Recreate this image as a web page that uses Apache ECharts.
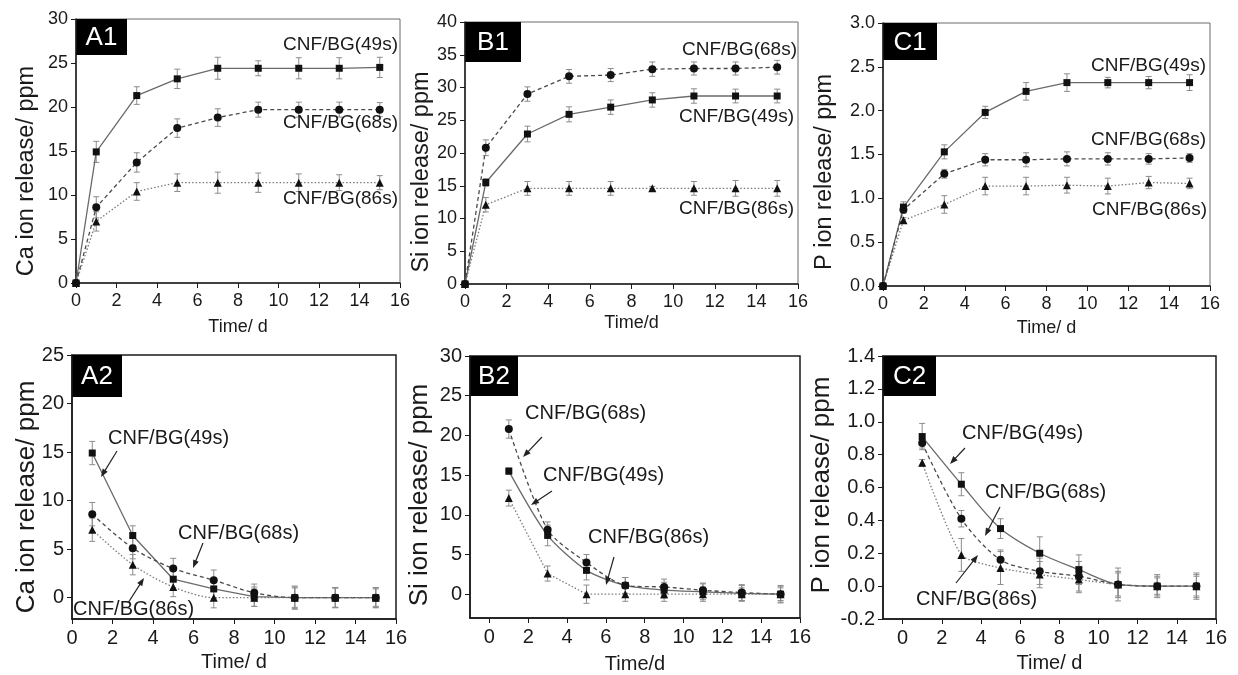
<!DOCTYPE html>
<html>
<head>
<meta charset="utf-8">
<script src="https://cdn.jsdelivr.net/npm/echarts@6/dist/echarts.min.js"></script>
<style>
  html, body { margin: 0; padding: 0; background: #fff; }
  #chart { width: 1238px; height: 675px; }
</style>
</head>
<body>
<div id="chart"></div>
<script>
// sampling days
const daysTop = [0, 1, 3, 5, 7, 9, 11, 13, 15];
const daysBottom = [1, 3, 5, 7, 9, 11, 13, 15];

// tick labels
const dayTicks = [0, 2, 4, 6, 8, 10, 12, 14, 16];
const caCumTicks = [0, 5, 10, 15, 20, 25, 30];
const siCumTicks = [0, 5, 10, 15, 20, 25, 30, 35, 40];
const pCumTicks = [0, 0.5, 1.0, 1.5, 2.0, 2.5, 3.0];
const caDayTicks = [0, 5, 10, 15, 20, 25];
const siDayTicks = [0, 5, 10, 15, 20, 25, 30];
const pDayTicks = [-0.2, 0, 0.2, 0.4, 0.6, 0.8, 1.0, 1.2, 1.4];

// A1 - cumulative Ca release
const caCum49 = [0, 14.9, 21.3, 23.2, 24.4, 24.4, 24.4, 24.4, 24.5];
const caCum49Err = [0, 1.2, 1.0, 1.1, 1.25, 0.85, 1.2, 1.2, 1.15];
const caCum68 = [0, 8.6, 13.7, 17.6, 18.8, 19.7, 19.7, 19.7, 19.7];
const caCum68Err = [0, 1.2, 1.1, 1.05, 1.0, 0.85, 0.85, 0.85, 0.8];
const caCum86 = [0, 7.0, 10.4, 11.4, 11.4, 11.4, 11.4, 11.4, 11.4];
const caCum86Err = [0, 1.1, 1.0, 1.0, 1.2, 1.1, 1.0, 0.9, 0.8];

// B1 - cumulative Si release
const siCum49 = [0, 15.5, 22.9, 25.9, 27.0, 28.1, 28.7, 28.7, 28.7];
const siCum49Err = [0, 0.6, 1.2, 1.15, 1.1, 1.1, 1.1, 1.05, 1.05];
const siCum68 = [0, 20.8, 29.0, 31.7, 31.9, 32.8, 32.9, 32.9, 33.1];
const siCum68Err = [0, 1.2, 1.1, 1.05, 1.0, 1.1, 1.0, 1.0, 1.05];
const siCum86 = [0, 12.1, 14.6, 14.6, 14.6, 14.6, 14.6, 14.6, 14.6];
const siCum86Err = [0, 1.1, 1.05, 1.05, 1.05, 0.3, 1.05, 1.2, 1.2];

// C1 - cumulative P release
const pCum49 = [0, 0.90, 1.53, 1.98, 2.22, 2.32, 2.32, 2.32, 2.32];
const pCum49Err = [0, 0.06, 0.08, 0.07, 0.1, 0.1, 0.06, 0.07, 0.09];
const pCum68 = [0, 0.87, 1.28, 1.44, 1.44, 1.45, 1.45, 1.45, 1.46];
const pCum68Err = [0, 0.04, 0.05, 0.07, 0.08, 0.08, 0.07, 0.06, 0.05];
const pCum86 = [0, 0.75, 0.93, 1.14, 1.14, 1.15, 1.14, 1.18, 1.17];
const pCum86Err = [0, 0.03, 0.1, 0.1, 0.1, 0.09, 0.09, 0.07, 0.06];

// A2 - Ca release per interval
const caDay49 = [14.9, 6.4, 1.9, 0.9, 0.1, 0, 0, 0];
const caDay49Err = [1.2, 1.0, 1.0, 1.0, 1.0, 1.1, 1.0, 1.0];
const caDay68 = [8.6, 5.1, 3.0, 1.8, 0.5, 0, 0, 0];
const caDay68Err = [1.2, 1.1, 1.05, 1.05, 0.9, 1.2, 1.05, 1.05];
const caDay86 = [7.0, 3.4, 1.1, 0, 0, 0, 0, 0];
const caDay86Err = [1.2, 1.05, 1.0, 1.05, 0.9, 1.0, 1.0, 0.9];

// B2 - Si release per interval
const siDay49 = [15.5, 7.4, 3.0, 1.1, 0.5, 0.3, 0.1, 0];
const siDay49Err = [0.4, 1.3, 1.2, 1.0, 1.0, 1.0, 1.0, 1.1];
const siDay68 = [20.8, 8.1, 4.0, 1.1, 0.9, 0.5, 0.2, 0];
const siDay68Err = [1.15, 1.0, 1.0, 1.0, 1.0, 0.9, 1.0, 1.0];
const siDay86 = [12.1, 2.6, 0, 0, 0, 0, 0, 0];
const siDay86Err = [1.0, 0.95, 1.15, 0.9, 0.9, 0.9, 0.8, 0.8];

// C2 - P release per interval
const pDay49 = [0.91, 0.62, 0.35, 0.20, 0.10, 0.01, 0, 0];
const pDay49Err = [0.08, 0.07, 0.06, 0.1, 0.09, 0.1, 0.07, 0.08];
const pDay68 = [0.87, 0.41, 0.16, 0.09, 0.06, 0.01, 0, 0];
const pDay68Err = [0.03, 0.05, 0.06, 0.08, 0.09, 0.08, 0.06, 0.07];
const pDay86 = [0.75, 0.19, 0.11, 0.07, 0.04, 0.01, 0, 0];
const pDay86Err = [0.02, 0.1, 0.1, 0.08, 0.08, 0.07, 0.05, 0.06];

const FONT = '"Liberation Sans", Arial, sans-serif';
const INK = '#1a1a1a';

// line look per sample
const styles = {
  s49: { symbol: 'rect', size: 7, line: { color: '#6a6a6a', width: 1.3, type: 'solid' } },
  s68: { symbol: 'circle', size: 8, line: { color: '#4a4a4a', width: 1.3, type: [4, 3] } },
  s86: { symbol: 'triangle', size: 8, line: { color: '#7a7a7a', width: 1.3, type: [1.5, 2] } },
};

// panel layout (top row has a lighter frame on top/right)
const panels = [
  { left: 76, top: 19, width: 324, height: 264, xMin: 0, yMin: 0, yMax: 30, yTicks: caCumTicks, dec: 0, fs: 18, nameGap: 35, xName: 'Time/ d', frame: '#6a6a6a', frameW: 1 },
  { left: 465, top: 22, width: 333, height: 262, xMin: 0, yMin: 0, yMax: 40, yTicks: siCumTicks, dec: 0, fs: 18, nameGap: 30, xName: 'Time/d', frame: '#6a6a6a', frameW: 1 },
  { left: 883, top: 23, width: 327, height: 263, xMin: 0, yMin: 0, yMax: 3, yTicks: pCumTicks, dec: 1, fs: 18, nameGap: 33, xName: 'Time/ d', frame: '#6a6a6a', frameW: 1 },
  { left: 72, top: 355, width: 324, height: 264, xMin: 0, yMin: -2.2, yMax: 25, yTicks: caDayTicks, dec: 0, fs: 20, nameGap: 33, xName: 'Time/ d', frame: INK, frameW: 1.5 },
  { left: 470, top: 356, width: 330, height: 263, xMin: -1, yMin: -3, yMax: 30, yTicks: siDayTicks, dec: 0, fs: 20, nameGap: 36, xName: 'Time/d', frame: INK, frameW: 1.5 },
  { left: 883, top: 356, width: 333, height: 263, xMin: -1, yMin: -0.2, yMax: 1.4, yTicks: pDayTicks, dec: 1, fs: 20, nameGap: 34, xName: 'Time/ d', frame: INK, frameW: 1.5 },
];

const grids = panels.map(p => ({
  left: p.left, top: p.top, width: p.width, height: p.height,
  show: true, borderColor: p.frame, borderWidth: p.frameW, containLabel: false,
}));

const xAxes = panels.map((p, i) => ({
  gridIndex: i, type: 'value', min: p.xMin, max: 16,
  name: p.xName, nameLocation: 'middle', nameGap: p.nameGap,
  nameTextStyle: { fontFamily: FONT, fontSize: p.fs, color: INK },
  axisLine: { show: true, onZero: false, lineStyle: { color: INK, width: 1.5 } },
  axisTick: { show: true, length: 5, customValues: dayTicks, lineStyle: { color: INK } },
  axisLabel: { fontFamily: FONT, fontSize: p.fs, color: INK, margin: 9, customValues: dayTicks },
  splitLine: { show: false },
}));

const yAxes = panels.map((p, i) => ({
  gridIndex: i, type: 'value', min: p.yMin, max: p.yMax,
  axisLine: { show: true, onZero: false, lineStyle: { color: INK, width: 1.5 } },
  axisTick: { show: true, length: 5, customValues: p.yTicks, lineStyle: { color: INK } },
  axisLabel: {
    fontFamily: FONT, fontSize: p.fs, color: INK, margin: 8, customValues: p.yTicks,
    formatter: v => Number(v).toFixed(p.dec),
  },
  splitLine: { show: false },
}));

function lineSeries(idx, xs, ys, st, smooth) {
  return {
    type: 'line', xAxisIndex: idx, yAxisIndex: idx,
    data: xs.map((x, k) => [x, ys[k]]),
    symbol: st.symbol, symbolSize: st.size, smooth: smooth,
    itemStyle: { color: '#111' },
    lineStyle: st.line, z: 3, silent: true,
  };
}

function errSeries(idx, xs, ys, es) {
  return {
    type: 'custom', xAxisIndex: idx, yAxisIndex: idx, z: 2, silent: true,
    data: xs.map((x, k) => [x, ys[k], es[k]]),
    encode: { x: 0, y: 1 },
    renderItem: (params, api) => {
      const x = api.value(0), y = api.value(1), e = api.value(2);
      if (!e) return null;
      const hi = api.coord([x, y + e]);
      const lo = api.coord([x, y - e]);
      const w = 3;
      const st = { stroke: '#8c8c8c', lineWidth: 1 };
      return {
        type: 'group', children: [
          { type: 'line', shape: { x1: hi[0], y1: hi[1], x2: lo[0], y2: lo[1] }, style: st },
          { type: 'line', shape: { x1: hi[0] - w, y1: hi[1], x2: hi[0] + w, y2: hi[1] }, style: st },
          { type: 'line', shape: { x1: lo[0] - w, y1: lo[1], x2: lo[0] + w, y2: lo[1] }, style: st },
        ],
      };
    },
  };
}

function trio(idx, xs, a, aE, b, bE, c, cE, smooth) {
  return [
    errSeries(idx, xs, a, aE), errSeries(idx, xs, b, bE), errSeries(idx, xs, c, cE),
    lineSeries(idx, xs, a, styles.s49, smooth[0]),
    lineSeries(idx, xs, b, styles.s68, smooth[1]),
    lineSeries(idx, xs, c, styles.s86, smooth[2]),
  ];
}

const series = [
  ...trio(0, daysTop, caCum49, caCum49Err, caCum68, caCum68Err, caCum86, caCum86Err, [false, false, false]),
  ...trio(1, daysTop, siCum49, siCum49Err, siCum68, siCum68Err, siCum86, siCum86Err, [false, false, false]),
  ...trio(2, daysTop, pCum49, pCum49Err, pCum68, pCum68Err, pCum86, pCum86Err, [false, false, false]),
  ...trio(3, daysBottom, caDay49, caDay49Err, caDay68, caDay68Err, caDay86, caDay86Err, [false, 0.3, 0.3]),
  ...trio(4, daysBottom, siDay49, siDay49Err, siDay68, siDay68Err, siDay86, siDay86Err, [0.25, 0.25, false]),
  ...trio(5, daysBottom, pDay49, pDay49Err, pDay68, pDay68Err, pDay86, pDay86Err, [0.3, 0.3, 0.2]),
];

// annotations
function txt(x, y, text, align, size) {
  return {
    type: 'text', x: x, y: y, z: 10, silent: true,
    style: { text: text, font: size + 'px ' + FONT, fill: INK, align: align, verticalAlign: 'middle' },
  };
}
function yName(x, y, text, size) {
  return {
    type: 'text', x: x, y: y, rotation: Math.PI / 2, z: 10, silent: true,
    style: { text: text, font: size + 'px ' + FONT, fill: INK, align: 'center', verticalAlign: 'middle' },
  };
}
function tag(x, y, w, h, text) {
  return {
    type: 'group', x: x, y: y, z: 20, silent: true, children: [
      { type: 'rect', shape: { x: 0, y: 0, width: w, height: h }, style: { fill: '#000' } },
      { type: 'text', x: w / 2, y: h / 2 + 1, style: { text: text, font: '26px ' + FONT, fill: '#fff', align: 'center', verticalAlign: 'middle' } },
    ],
  };
}
function arrow(x1, y1, x2, y2) {
  const dx = x2 - x1, dy = y2 - y1, len = Math.hypot(dx, dy);
  const ux = dx / len, uy = dy / len, nx = -uy, ny = ux;
  const hl = 8, hw = 3;
  return [
    { type: 'line', z: 10, silent: true, shape: { x1: x1, y1: y1, x2: x2 - ux * 4, y2: y2 - uy * 4 }, style: { stroke: '#222', lineWidth: 1.2 } },
    { type: 'polygon', z: 10, silent: true, shape: { points: [[x2, y2], [x2 - ux * hl + nx * hw, y2 - uy * hl + ny * hw], [x2 - ux * hl - nx * hw, y2 - uy * hl - ny * hw]] }, style: { fill: '#222' } },
  ];
}

const graphic = [
  tag(76, 19, 51, 36, 'A1'), tag(465, 22, 56, 40, 'B1'), tag(883, 23, 54, 37, 'C1'),
  tag(72, 355, 50, 42, 'A2'), tag(470, 356, 48, 40, 'B2'), tag(883, 356, 53, 40, 'C2'),

  yName(27, 171, 'Ca ion release/ ppm', 23.5),
  yName(422, 172, 'Si ion release/ ppm', 23.5),
  yName(825, 172, 'P ion release/ ppm', 23.5),
  yName(27, 497, 'Ca ion release/ ppm', 26),
  yName(420, 495, 'Si ion release/ ppm', 26),
  yName(822, 485, 'P ion release/ ppm', 26),

  txt(398, 45, 'CNF/BG(49s)', 'right', 19),
  txt(398, 123, 'CNF/BG(68s)', 'right', 19),
  txt(398, 199, 'CNF/BG(86s)', 'right', 19),
  txt(797, 50, 'CNF/BG(68s)', 'right', 19),
  txt(794, 117, 'CNF/BG(49s)', 'right', 19),
  txt(794, 209, 'CNF/BG(86s)', 'right', 19),
  txt(1206, 66, 'CNF/BG(49s)', 'right', 19),
  txt(1206, 140, 'CNF/BG(68s)', 'right', 19),
  txt(1207, 210, 'CNF/BG(86s)', 'right', 19),

  txt(108, 438, 'CNF/BG(49s)', 'left', 20),
  txt(178, 533, 'CNF/BG(68s)', 'left', 20),
  txt(73, 609, 'CNF/BG(86s)', 'left', 20),
  ...arrow(117, 451, 101, 477),
  ...arrow(203, 543, 193, 568),
  ...arrow(128, 603, 144, 578),

  txt(525, 413, 'CNF/BG(68s)', 'left', 20),
  txt(543, 475, 'CNF/BG(49s)', 'left', 20),
  txt(588, 537, 'CNF/BG(86s)', 'left', 20),
  ...arrow(542, 437, 523, 457),
  ...arrow(552, 491, 531, 505),
  ...arrow(614, 557, 606, 585),

  txt(962, 433, 'CNF/BG(49s)', 'left', 20),
  txt(985, 492, 'CNF/BG(68s)', 'left', 20),
  txt(916, 599, 'CNF/BG(86s)', 'left', 20),
  ...arrow(965, 448, 950, 464),
  ...arrow(1000, 507, 985, 536),
  ...arrow(956, 583, 978, 555),
];

const chart = echarts.init(document.getElementById('chart'), null, { renderer: 'canvas' });
chart.setOption({
  animation: false,
  backgroundColor: '#fff',
  grid: grids,
  xAxis: xAxes,
  yAxis: yAxes,
  series: series,
  graphic: graphic,
});
</script>
</body>
</html>
